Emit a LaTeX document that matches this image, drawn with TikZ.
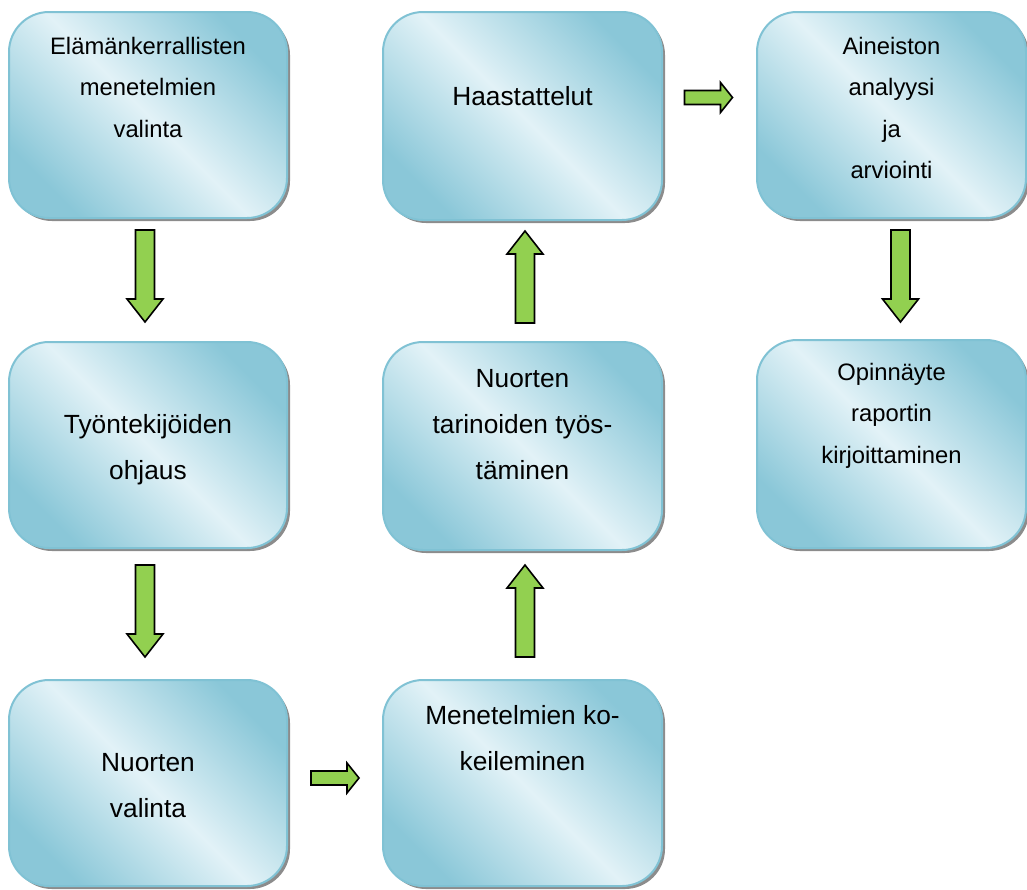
\documentclass[tikz,border=0pt]{standalone}
\usepackage{fontspec}
\setmainfont{Liberation Sans}
\usetikzlibrary{calc,shadows}
\definecolor{boxdark}{RGB}{138,199,216}
\definecolor{boxlight}{RGB}{226,242,247}
\definecolor{boxline}{RGB}{128,194,212}
\definecolor{arrgreen}{RGB}{146,208,80}
\newcommand\smalltxt{\fontsize{23.8}{41.5}\selectfont}
\newcommand\largetxt{\fontsize{26.3}{46}\selectfont}
\newcommand\boxcontent[5]{\parbox[c][#2][t]{#1}{#4\centering\rule{0pt}{#3}#5\par}}
\tikzset{
  box/.style={draw=boxline, line width=2pt, rounded corners=40pt, inner sep=0pt, outer sep=0pt,
    shading=axis, top color=boxdark, bottom color=boxdark, middle color=boxlight, shading angle=-45,
    drop shadow={shadow xshift=3pt, shadow yshift=-3pt, fill=black!45, opacity=1}},
  arrstyle/.style={fill=arrgreen, draw=black, line width=1.6pt, line join=miter},
  varr/.pic={\draw[arrstyle] (-46,-9.5) -- (23,-9.5) -- (23,-18) -- (46,0) -- (23,18) -- (23,9.5) -- (-46,9.5) -- cycle;},
  harr/.pic={\draw[arrstyle] (-24,-7) -- (12,-7) -- (12,-15) -- (24,0) -- (12,15) -- (12,7) -- (-24,7) -- cycle;}
}
\begin{document}
\begin{tikzpicture}[x=1pt,y=-1pt]
\useasboundingbox (0,0) rectangle (1027,889);
\node[box] (b1) at (148,115) {\boxcontent{278pt}{206pt}{42pt}{\smalltxt}{Elämänkerrallisten\\menetelmien\\valinta}};
\node[box] (b2) at (148,445) {\boxcontent{278pt}{206pt}{91pt}{\largetxt}{Työntekijöiden\\ohjaus}};
\node[box] (b3) at (148,783) {\boxcontent{278pt}{206pt}{91pt}{\largetxt}{Nuorten\\valinta}};
\node[box] (b4) at (522.5,783) {\boxcontent{279pt}{206pt}{44pt}{\largetxt}{Menetelmien ko-\\keileminen}};
\node[box] (b5) at (522.5,446) {\boxcontent{279pt}{208pt}{45pt}{\largetxt}{Nuorten\\tarinoiden työs-\\täminen}};
\node[box] (b6) at (522.5,116) {\boxcontent{279pt}{208pt}{93pt}{\largetxt}{Haastattelut}};
\node[box] (b7) at (891.5,115) {\boxcontent{269pt}{206pt}{42pt}{\smalltxt}{Aineiston\\analyysi\\ja\\arviointi}};
\node[box] (b8) at (891.5,444) {\boxcontent{269pt}{208pt}{40pt}{\smalltxt}{Opinnäyte\\raportin\\kirjoittaminen}};

\path ($(b1.south)!0.5!(b2.north)+(-3,-4)$) pic[rotate=-90] {varr};
\path ($(b2.south)!0.5!(b3.north)+(-3,-3)$) pic[rotate=-90] {varr};
\path ($(b3.east)!0.5!(b4.west)+(0,-5)$) pic {harr};
\path ($(b4.north)!0.5!(b5.south)+(2.5,-4)$) pic[rotate=90] {varr};
\path ($(b5.north)!0.5!(b6.south)+(2.5,-4)$) pic[rotate=90] {varr};
\path ($(b6.east)!0.5!(b7.west)+(-1,-18)$) pic {harr};
\path ($(b7.south)!0.5!(b8.north)+(9,-3)$) pic[rotate=-90] {varr};
\end{tikzpicture}
\end{document}
